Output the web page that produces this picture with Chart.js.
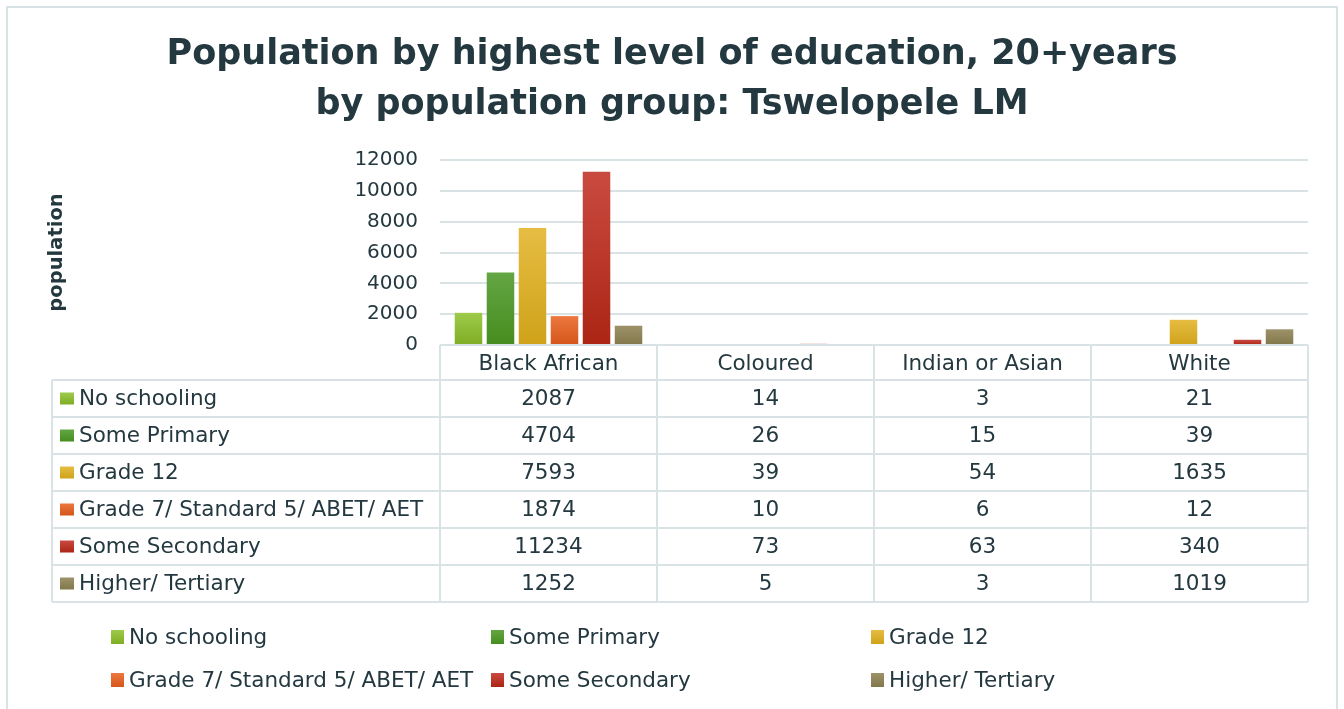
<!DOCTYPE html>
<html>
<head>
<meta charset="utf-8">
<script src="https://cdn.jsdelivr.net/npm/chart.js@4.4.1/dist/chart.umd.min.js"></script>
<style>
  html, body { margin: 0; padding: 0; background: #fff; }
  #wrap { width: 1344px; height: 709px; }
</style>
</head>
<body>
<div id="wrap"><canvas id="chart" width="1344" height="709"></canvas></div>
<script>
const groups = ["Black African", "Coloured", "Indian or Asian", "White"];
const levels = ["No schooling", "Some Primary", "Grade 12", "Grade 7/ Standard 5/ ABET/ AET", "Some Secondary", "Higher/ Tertiary"];

const noSchooling = [2087, 14, 3, 21];
const somePrimary = [4704, 26, 15, 39];
const grade12 = [7593, 39, 54, 1635];
const grade7 = [1874, 10, 6, 12];
const someSecondary = [11234, 73, 63, 340];
const higherTertiary = [1252, 5, 3, 1019];

const yTicks = [0, 2000, 4000, 6000, 8000, 10000, 12000];

const seriesValues = [noSchooling, somePrimary, grade12, grade7, someSecondary, higherTertiary];
// top / bottom of each bar's gradient
const seriesColors = [
  ["#9dca4b", "#80ad24"],
  ["#63a644", "#468d1e"],
  ["#e6bd43", "#cfa219"],
  ["#ec7840", "#d45519"],
  ["#c94a40", "#ac2515"],
  ["#9d926a", "#81774a"]
];

const TEXT = "#243840";
const LINE = "#d9e2e5";
const FONT = "DejaVu Sans";
const BODY = 21.5;

Chart.defaults.font.family = FONT;
Chart.defaults.color = TEXT;

function barFill(pair) {
  return (ctx) => {
    const chart = ctx.chart;
    if (!chart.chartArea || ctx.type !== "data") return pair[0];
    const y = chart.scales.y;
    const top = y.getPixelForValue(ctx.raw);
    const bot = y.getPixelForValue(0);
    if (bot - top < 2) return pair[1];
    const g = chart.ctx.createLinearGradient(0, top, 0, bot);
    g.addColorStop(0, pair[0]);
    g.addColorStop(1, pair[1]);
    return g;
  };
}

function swatch(c, x, y, w, h, pair) {
  const g = c.createLinearGradient(0, y, 0, y + h);
  g.addColorStop(0, pair[0]);
  g.addColorStop(1, pair[1]);
  c.fillStyle = g;
  c.fillRect(x, y, w, h);
}

// data table + legend + outer frame
const tablePlugin = {
  id: "dataTable",
  afterDraw(chart) {
    const c = chart.ctx;
    const area = chart.chartArea;
    const xs = chart.scales.x;
    const catW = (area.right - area.left) / groups.length;
    const labelLeft = 52;
    const headTop = area.bottom;
    const headBot = headTop + 35;
    const rowH = 37;
    const tableBot = headBot + rowH * levels.length;

    c.save();
    // outer frame
    c.strokeStyle = LINE;
    c.lineWidth = 2;
    c.strokeRect(7, 7, 1330, 720);

    // grid of the table
    c.beginPath();
    c.moveTo(area.left, headTop);
    c.lineTo(area.right, headTop);
    for (let r = 0; r <= levels.length; r++) {
      const y = headBot + r * rowH;
      c.moveTo(labelLeft, y);
      c.lineTo(area.right, y);
    }
    c.moveTo(labelLeft, headBot);
    c.lineTo(labelLeft, tableBot);
    for (let i = 0; i <= groups.length; i++) {
      const x = area.left + i * catW;
      c.moveTo(x, headTop);
      c.lineTo(x, tableBot);
    }
    c.stroke();

    // row labels and values
    c.font = BODY + "px " + FONT;
    c.textBaseline = "middle";
    levels.forEach((lvl, r) => {
      const cy = headBot + r * rowH + rowH / 2;
      swatch(c, 60, cy - 6, 14, 12, seriesColors[r]);
      c.fillStyle = TEXT;
      c.textAlign = "left";
      c.fillText(lvl, 79, cy + 1);
      c.textAlign = "center";
      seriesValues[r].forEach((v, i) => {
        c.fillText(String(v), xs.getPixelForValue(i), cy + 1);
      });
    });

    // legend
    const legX = [111, 491, 871];
    const legY = [637, 680];
    levels.forEach((lvl, k) => {
      const lx = legX[k % 3];
      const ly = legY[Math.floor(k / 3)];
      swatch(c, lx, ly - 7, 13, 14, seriesColors[k]);
      c.fillStyle = TEXT;
      c.textAlign = "left";
      c.fillText(lvl, lx + 18, ly + 1);
    });
    c.restore();
  }
};

new Chart(document.getElementById("chart"), {
  type: "bar",
  data: {
    labels: groups,
    datasets: levels.map((lvl, i) => ({
      label: lvl,
      data: seriesValues[i],
      backgroundColor: barFill(seriesColors[i]),
      borderWidth: 0,
      categoryPercentage: 0.885,
      barPercentage: 0.86
    }))
  },
  options: {
    responsive: false,
    animation: false,
    devicePixelRatio: 1,
    layout: { padding: 0 },
    plugins: {
      legend: { display: false },
      tooltip: { enabled: false },
      title: {
        display: true,
        text: ["Population by highest level of education, 20+years", "by population group: Tswelopele LM"],
        color: TEXT,
        font: { family: FONT, size: 35, weight: "bold", lineHeight: 50 / 35 },
        padding: { top: 30, bottom: 30 }
      }
    },
    scales: {
      x: {
        grid: { display: false, drawTicks: false },
        border: { display: false },
        ticks: { font: { size: BODY }, color: TEXT, padding: 7, maxRotation: 0 },
        afterFit: (s) => { s.height = 364; }
      },
      y: {
        min: 0,
        max: 12000,
        afterBuildTicks: (s) => { s.ticks = yTicks.map((v) => ({ value: v })); },
        grid: { color: LINE, lineWidth: 2, drawTicks: false },
        border: { display: false },
        ticks: { font: { size: 20 }, color: TEXT, padding: 22, callback: (v) => String(v) },
        title: {
          display: true,
          text: "population",
          color: TEXT,
          font: { size: 19.5, weight: "bold" },
          padding: { top: 45 }
        },
        afterFit: (s) => { s.width = 440; }
      },
      // empty right gutter so the title stays centred on the page
      gutter: {
        position: "right",
        min: 0,
        max: 12000,
        grid: { display: false, drawTicks: false },
        border: { display: false },
        ticks: { display: false },
        afterFit: (s) => { s.width = 36; }
      }
    }
  },
  plugins: [tablePlugin]
});
</script>
</body>
</html>
